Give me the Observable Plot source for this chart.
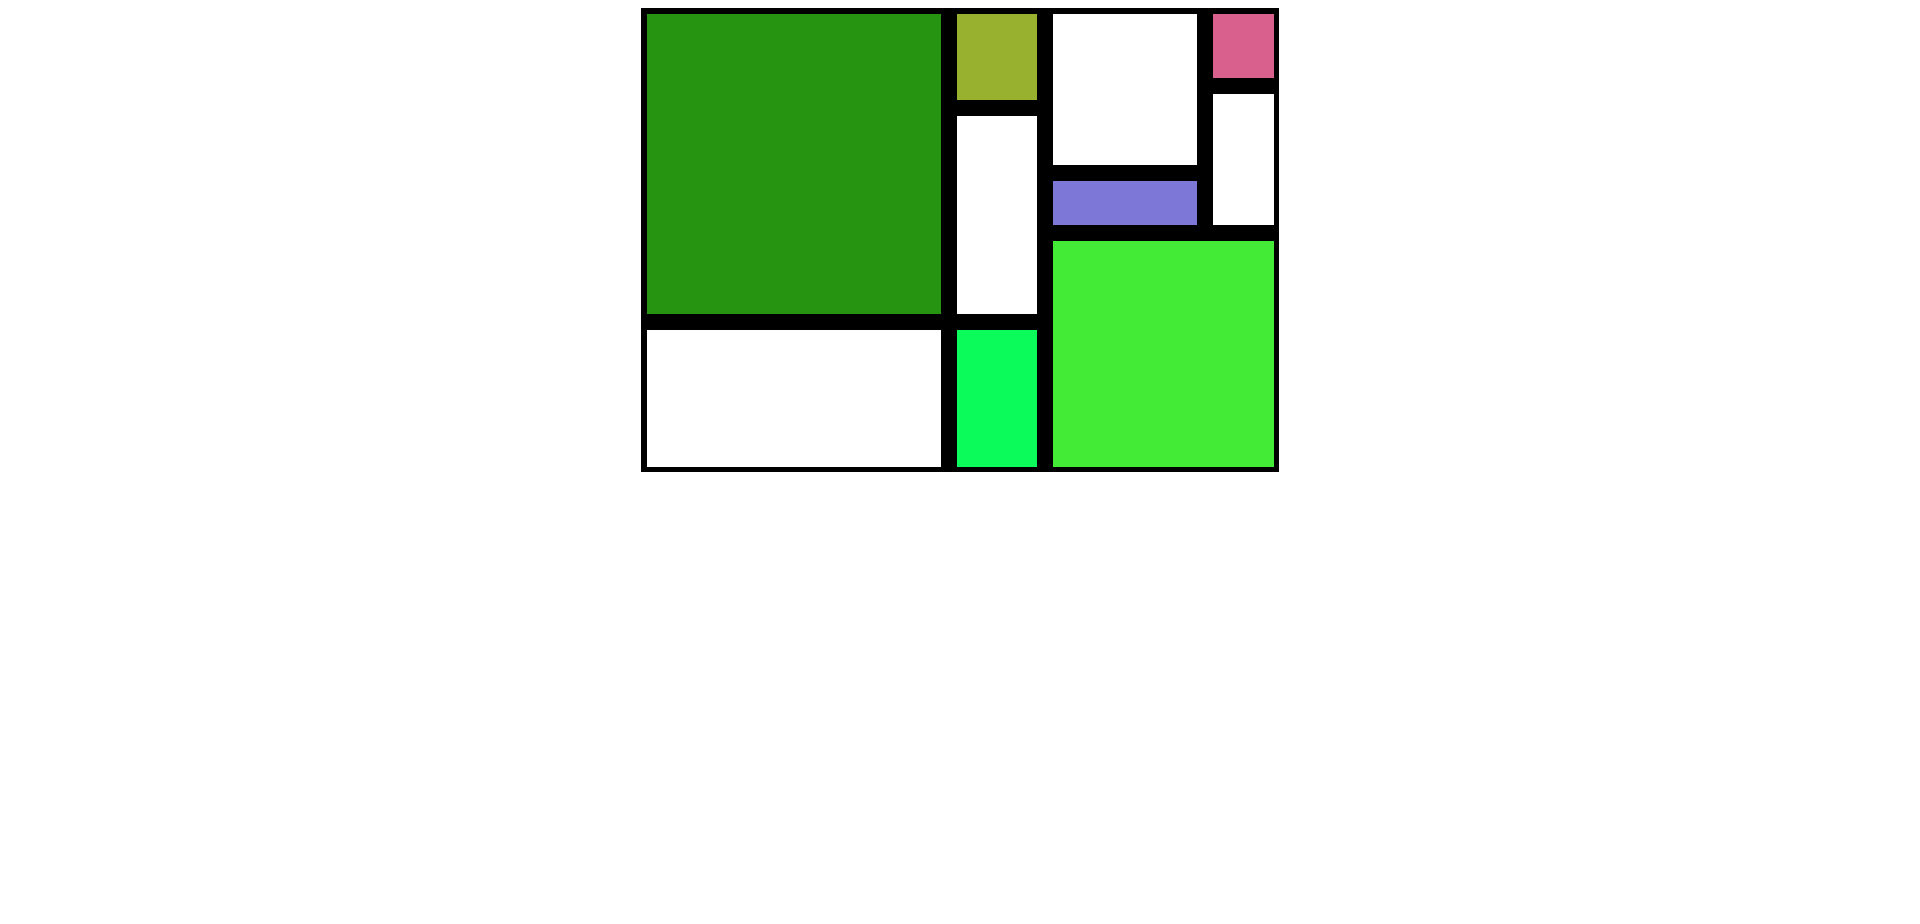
<!DOCTYPE html>
<html>
<head>
<meta charset="utf-8">
<script src="https://cdn.jsdelivr.net/npm/d3@7"></script>
<script src="https://cdn.jsdelivr.net/npm/@observablehq/plot@0.6"></script>
<style>
  body { background: #fff; margin: 8px; }
  #chart svg { display: block; margin: 0 auto; }
</style>
</head>
<body>
<div id="chart"></div>
<script>
// Composition extent (abstract units)
const extentX = [0, 643];
const extentY = [0, 469];

// Cells: boundaries along the grid lines, and their fill
const cellX1 = [0,   0,   310, 310, 310, 406, 406, 406, 566, 566];
const cellX2 = [310, 310, 406, 406, 406, 566, 566, 643, 643, 643];
const cellY1 = [0,   316, 0,   102, 316, 0,   167, 227, 0,   80];
const cellY2 = [316, 469, 102, 316, 469, 167, 227, 469, 80,  227];
const cellColor = ["#269411", "#ffffff", "#98b12f", "#ffffff", "#0bfb5a",
                   "#ffffff", "#7d77d8", "#43eb36", "#d95f8d", "#ffffff"];

const cells = cellX1.map((x1, i) => ({
  x1, x2: cellX2[i], y1: cellY1[i], y2: cellY2[i], color: cellColor[i]
}));
const background = [{x1: extentX[0], x2: extentX[1], y1: extentY[0], y2: extentY[1]}];

const chart = Plot.plot({
  width: 640,
  height: 465,
  margin: 0,
  x: {domain: extentX, range: [-1, 642], axis: null},
  y: {domain: extentY, range: [-2, 467], axis: null},
  color: {type: "identity"},
  marks: [
    Plot.rect(background, {
      x1: "x1", x2: "x2", y1: "y1", y2: "y2", fill: "black",
      insetLeft: 2, insetRight: 3, insetTop: 2, insetBottom: 3
    }),
    Plot.rect(cells, {
      x1: "x1", x2: "x2", y1: "y1", y2: "y2", fill: "color", inset: 8
    })
  ]
});
document.getElementById("chart").append(chart);
</script>
</body>
</html>
